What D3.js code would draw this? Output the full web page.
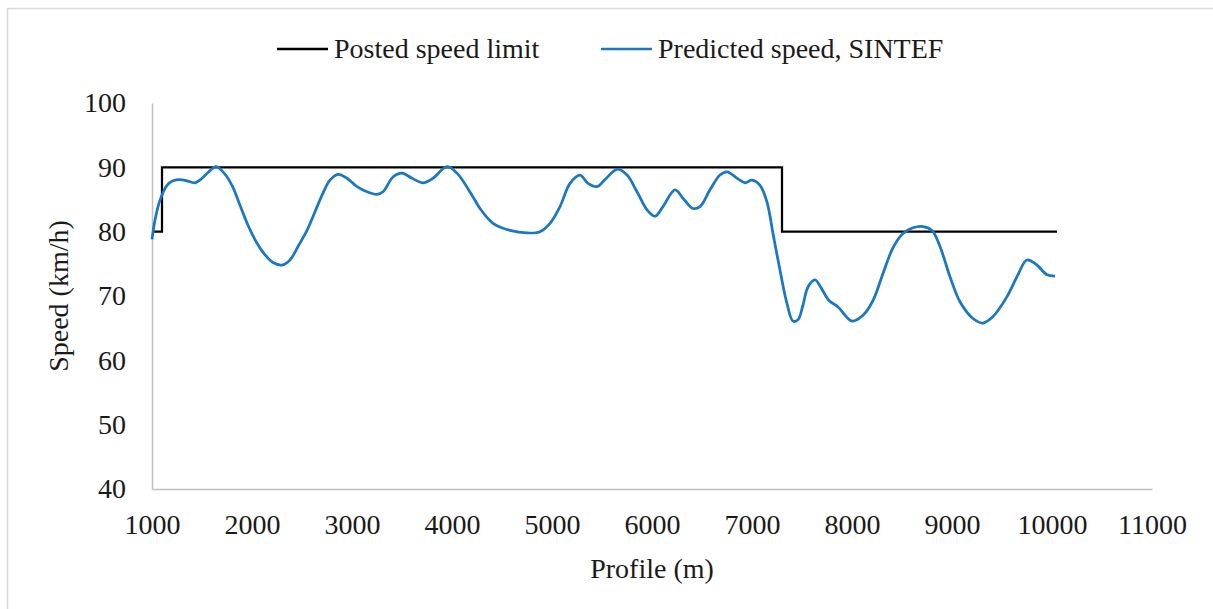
<!DOCTYPE html>
<html>
<head>
<meta charset="utf-8">
<script src="https://cdn.jsdelivr.net/npm/d3@7"></script>
<style>
  body { margin: 0; background: #fff; }
  text { font-family: "Liberation Serif", "Times New Roman", serif; fill: #1a1a1a; }
</style>
</head>
<body>
<div id="chart"></div>
<script>
(function(d3) {
  'use strict';

  var width = 1213;
  var height = 609;

  // posted speed limit (step line)
  var limitProfile = [1000, 1100, 7300, 10050];
  var limitSpeed = [80, 90, 80, 80];

  // predicted speed, SINTEF
  var predProfile = [1000, 1030, 1080, 1150, 1210, 1280, 1350, 1430, 1500, 1560,
    1640, 1710, 1800, 1880, 1960, 2050, 2130, 2210, 2300, 2380,
    2460, 2550, 2630, 2710, 2780, 2860, 2950, 3050, 3150, 3250,
    3310, 3410, 3500, 3600, 3710, 3810, 3950, 4050, 4210, 4280,
    4410, 4580, 4750, 4880, 4980, 5080, 5180, 5280, 5360, 5450,
    5530, 5650, 5750, 5850, 5950, 6030, 6110, 6230, 6320, 6410,
    6480, 6580, 6680, 6750, 6860, 6930, 7000, 7080, 7150, 7210,
    7280, 7350, 7410, 7460, 7510, 7560, 7630, 7690, 7770, 7860,
    8000, 8110, 8210, 8310, 8410, 8510, 8610, 8710, 8800, 8880,
    8980, 9080, 9210, 9310, 9410, 9550, 9650, 9750, 9850, 9950,
    10030];
  var predSpeed = [78.8, 81.8, 84.9, 87.2, 87.9, 88.1, 87.9, 87.6, 88.3, 89.2,
    90.1, 89.3, 87.2, 84.1, 81.0, 78.2, 76.4, 75.2, 74.8, 75.6,
    77.7, 80.2, 83.1, 86.0, 88.0, 88.9, 88.3, 87.0, 86.2, 85.8,
    86.2, 88.5, 89.1, 88.3, 87.6, 88.3, 90.1, 89.1, 85.4, 83.6,
    81.3, 80.2, 79.8, 80.0, 81.3, 83.9, 87.5, 88.8, 87.5, 87.0,
    88.1, 89.7, 88.8, 86.2, 83.4, 82.4, 83.9, 86.5, 85.0, 83.6,
    83.9, 86.5, 88.8, 89.3, 88.2, 87.6, 88.0, 87.2, 84.6, 79.7,
    74.0, 68.8, 66.1, 66.3, 68.6, 71.4, 72.5, 71.3, 69.3, 68.3,
    66.1, 67.0, 69.3, 73.5, 77.5, 79.7, 80.6, 80.8, 80.2, 77.7,
    73.0, 69.1, 66.5, 65.8, 66.8, 69.9, 73.0, 75.6, 74.8, 73.3,
    73.1];

  var xTicks = [1000, 2000, 3000, 4000, 5000, 6000, 7000, 8000, 9000, 10000, 11000];
  var yTicks = [40, 50, 60, 70, 80, 90, 100];

  var seriesNames = ['Posted speed limit', 'Predicted speed, SINTEF'];
  var seriesColors = ['#000000', '#1a78c2'];

  var svg = d3.select('#chart')
    .append('svg')
    .attr('width', width)
    .attr('height', height);

  // chart frame
  svg.append('rect')
    .attr('x', 7.5)
    .attr('y', 8.5)
    .attr('width', width + 20)
    .attr('height', height + 20)
    .attr('fill', 'none')
    .attr('stroke', '#d9d9d9')
    .attr('stroke-width', 1.5);

  var x = d3.scaleLinear().domain([1000, 11000]).range([152, 1152]);
  var y = d3.scaleLinear().domain([40, 100]).range([489, 103]);

  var xAxis = svg.append('g')
    .attr('transform', 'translate(0,489)')
    .call(d3.axisBottom(x).tickValues(xTicks).tickSize(0).tickPadding(25).tickFormat(d3.format('d')));

  var yAxis = svg.append('g')
    .attr('transform', 'translate(152,0)')
    .call(d3.axisLeft(y).tickValues(yTicks).tickSize(0).tickPadding(26));

  [xAxis, yAxis].forEach(function(a) {
    a.select('.domain').attr('stroke', '#bfbfbf').attr('stroke-width', 1.5);
    a.selectAll('text')
      .attr('fill', '#1a1a1a')
      .style('font-family', '"Liberation Serif", "Times New Roman", serif')
      .style('font-size', '28px');
  });

  var limitLine = d3.line()
    .x(function(d, i) { return x(limitProfile[i]); })
    .y(function(d, i) { return y(limitSpeed[i]); })
    .curve(d3.curveStepAfter);

  svg.append('path')
    .attr('d', limitLine(limitProfile))
    .attr('fill', 'none')
    .attr('stroke', seriesColors[0])
    .attr('stroke-width', 2.25);

  var predLine = d3.line()
    .x(function(d, i) { return x(predProfile[i]); })
    .y(function(d, i) { return y(predSpeed[i]); })
    .curve(d3.curveCatmullRom.alpha(0.5));

  svg.append('path')
    .attr('d', predLine(predProfile))
    .attr('fill', 'none')
    .attr('stroke', seriesColors[1])
    .attr('stroke-width', 2.75)
    .attr('stroke-linejoin', 'round');

  // axis titles
  svg.append('text')
    .attr('x', 652)
    .attr('y', 578)
    .attr('text-anchor', 'middle')
    .style('font-size', '28px')
    .text('Profile (m)');

  svg.append('text')
    .attr('transform', 'translate(68,296) rotate(-90)')
    .attr('text-anchor', 'middle')
    .style('font-size', '28px')
    .text('Speed (km/h)');

  // legend
  var legendX = [277, 601];
  var legend = svg.selectAll('.legend')
    .data(seriesNames)
    .enter()
    .append('g')
    .attr('class', 'legend')
    .attr('transform', function(d, i) { return 'translate(' + legendX[i] + ',49)'; });

  legend.append('line')
    .attr('x1', 0)
    .attr('x2', 51)
    .attr('stroke', function(d, i) { return seriesColors[i]; })
    .attr('stroke-width', 2.5);

  legend.append('text')
    .attr('x', 57)
    .attr('y', 9)
    .style('font-size', '28px')
    .text(function(d) { return d; });

})(window.d3);
</script>
</body>
</html>
